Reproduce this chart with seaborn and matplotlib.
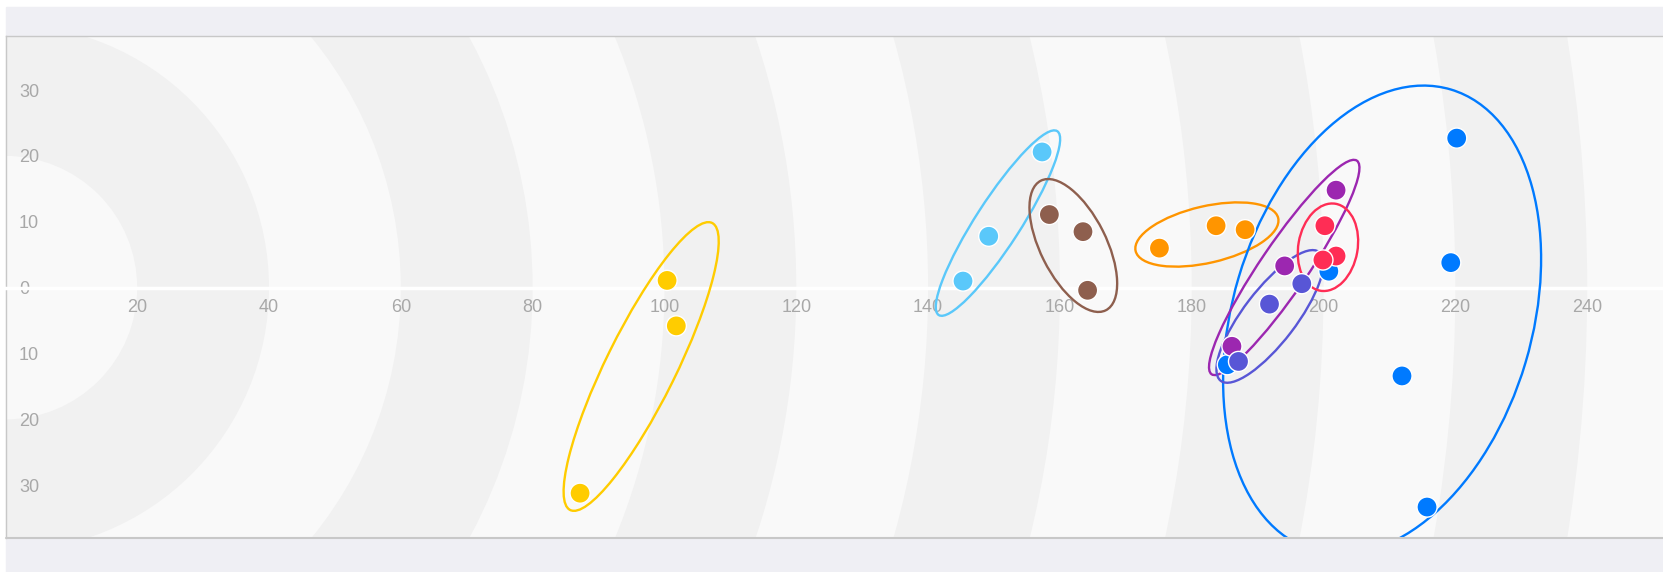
import numpy as np
import pandas as pd
import matplotlib
matplotlib.use('Agg')
import matplotlib.pyplot as plt
import seaborn as sns
from matplotlib.patches import Circle, Ellipse, Rectangle
from matplotlib.ticker import FuncFormatter

# point data
groups = ['yellow'] * 3 + ['lightblue'] * 3 + ['brown'] * 3 + ['orange'] * 3 + \
         ['blue'] * 6 + ['purple'] * 3 + ['indigo'] * 3 + ['red'] * 3
xs = [100.4, 101.8, 87.2,
      157.3, 149.2, 145.3,
      158.4, 163.5, 164.2,
      175.1, 183.7, 188.1,
      185.4, 200.8, 211.9, 220.2, 219.3, 215.7,
      201.9, 194.1, 186.1,
      196.7, 191.8, 187.1,
      200.2, 201.9, 199.9]
ys = [1.1, -5.8, -31.2,
      20.6, 7.8, 1.0,
      11.1, 8.5, -0.4,
      6.0, 9.4, 8.8,
      -11.7, 2.5, -13.4, 22.7, 3.8, -33.3,
      14.8, 3.3, -8.9,
      0.6, -2.5, -11.2,
      9.4, 4.8, 4.2]

# ellipse per group: semi axes and angle (deg), centred on the group mean
ell_groups = ['yellow', 'lightblue', 'brown', 'orange', 'blue', 'purple', 'indigo', 'red']
ell_major = [24.3, 16.6, 11.0, 11.1, 36.5, 19.6, 12.3, 6.7]
ell_minor = [5.3, 3.4, 5.0, 4.3, 22.7, 3.6, 4.0, 4.5]
ell_angle = [63.7, 57.2, -63.4, 13.0, 73.4, 55.8, 52.6, 80.0]

palette = {'yellow': '#ffcc00', 'lightblue': '#5ac8fa', 'brown': '#8e5f4e',
           'orange': '#ff9500', 'blue': '#007aff', 'purple': '#9c27b0',
           'indigo': '#5856d6', 'red': '#ff2d55'}

x_ticks = list(range(20, 260, 20))
y_ticks = list(range(-30, 40, 10))

df = pd.DataFrame({'x': xs, 'y': ys, 'group': groups})

sns.set_theme(style='white')
plt.rcParams['font.family'] = ['Liberation Sans', 'DejaVu Sans']

W, H = 1663, 572
fig = plt.figure(figsize=(W / 100, H / 100), dpi=100)
fig.patch.set_facecolor('white')
fig.patches.append(Rectangle((6 / W, 0), 1, (H - 7) / H, transform=fig.transFigure,
                             color='#efeff4', zorder=-10))
ax = fig.add_axes([6 / W, 34 / H, 1 - 6 / W, 502 / H])
ax.set_facecolor('#f9f9f9')

# concentric background bands
for i in reversed(range(14)):
    ax.add_patch(Circle((0, 0), 20 * (i + 1), color='#f9f9f9' if i % 2 == 0 else '#f1f1f1',
                        zorder=0, lw=0))

for g, a, b, ang in zip(ell_groups, ell_major, ell_minor, ell_angle):
    sub = df[df['group'] == g]
    ax.add_patch(Ellipse((sub['x'].mean(), sub['y'].mean()), 2 * a, 2 * b, angle=ang,
                         fill=False, edgecolor=palette[g], lw=1.7, zorder=3))

sns.scatterplot(data=df, x='x', y='y', hue='group', palette=palette, s=210,
                edgecolor='white', linewidth=1, legend=False, ax=ax, zorder=4)

ax.set_xlim(0.1, 251.5)
ax.set_ylim(-38.0, 38.2)
ax.set_xlabel('')
ax.set_ylabel('')

ax.spines['bottom'].set_position(('data', 0))
ax.spines['bottom'].set_color('white')
ax.spines['bottom'].set_linewidth(2.5)
ax.spines['right'].set_visible(False)
for s in ['top', 'left']:
    ax.spines[s].set_color('#c8c8c8')
    ax.spines[s].set_linewidth(1)
ax.plot([0, 1], [0, 0], transform=ax.transAxes, color='#c8c8c8', lw=1.5, clip_on=False, zorder=5)

ax.set_xticks(x_ticks)
ax.set_yticks(y_ticks)
ax.yaxis.set_major_formatter(FuncFormatter(lambda v, p: f'{abs(v):.0f}'))
ax.tick_params(axis='x', length=0, pad=8.5, labelsize=13, labelcolor='#a8a8a8')
ax.tick_params(axis='y', length=0, pad=-9.4, labelsize=13, labelcolor='#a8a8a8')
for lab in ax.get_yticklabels():
    lab.set_horizontalalignment('left')

fig.savefig('out.png', dpi=100)
